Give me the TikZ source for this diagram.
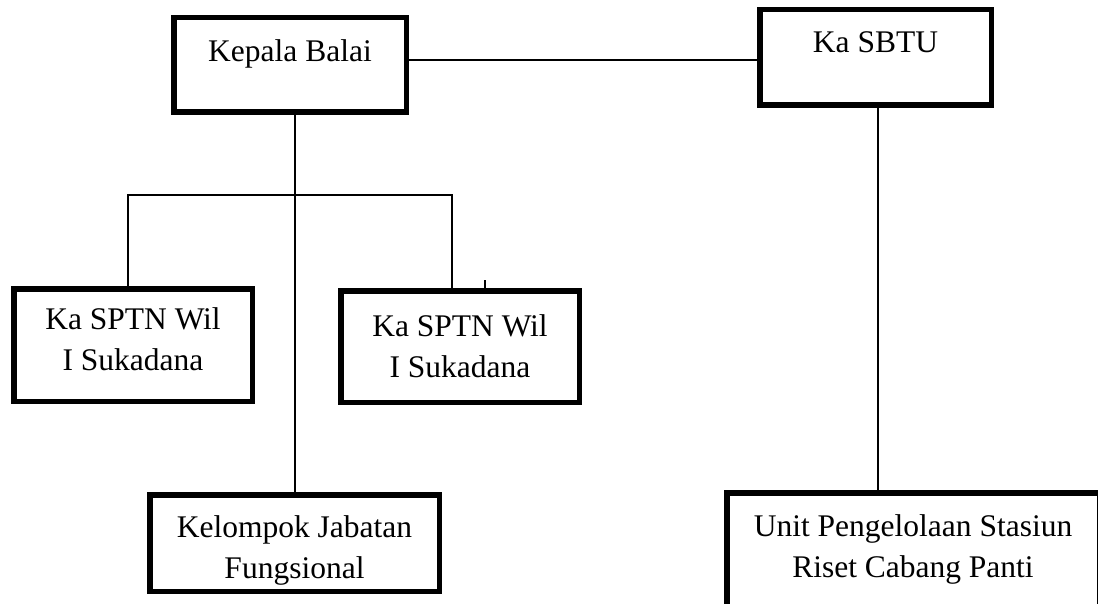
\documentclass[tikz,border=0pt]{standalone}
\usepackage{fontspec}
\setmainfont{Liberation Serif}
\usetikzlibrary{positioning}
\tikzstyle{post}=[draw,rectangle,line width=5.5pt,inner sep=0pt,align=center]
\tikzstyle{every node}=[font=\fontsize{31.5}{41}\selectfont]

\begin{document}
\begin{tikzpicture}[x=1pt,y=-1pt,line width=1.6pt]
    \clip (0,0) rectangle (1098,604);
    \node[post, minimum width=232.5pt, minimum height=94.5pt,
      text height=44.25pt, text depth=50.25pt] (kb) at (290,65) {Kepala Balai};
    \node[post, minimum width=231.5pt, minimum height=95.5pt,
      text height=43.25pt, text depth=52.25pt] (sbtu) at (875.5,57.5) {Ka SBTU};
    \node[post, minimum width=238.5pt, text height=81.25pt, text depth=31.25pt]
      (sptnA) at (133,345) {Ka SPTN Wil\\I Sukadana};
    \node[post, minimum width=238.5pt, text height=86.25pt, text depth=25.25pt]
      (sptnB) at (460,346.5) {Ka SPTN Wil\\I Sukadana};
    \node[post, minimum width=289.5pt, text height=83.25pt, text depth=13.25pt]
      (kjf) at (294.5,543) {Kelompok Jabatan\\Fungsional};
    \node[post, minimum width=372.5pt, text height=84.25pt, text depth=63pt]
      (upcs) at (913,566.375) {Unit Pengelolaan Stasiun\\Riset Cabang Panti};
    \coordinate (busL) at (128,195);
    \coordinate (busR) at (452,195);
    \coordinate (tick) at (485,280);
    \draw ([yshift=5pt]kb.east) -- ([yshift=5pt]kb.east -| sbtu.west);
    \draw ([xshift=5pt]kb.south) -- ([xshift=5pt]kb.south |- kjf.north);
    \draw (busL |- sptnA.north) -- (busL) -- (busR) -- (busR |- sptnB.north);
    \draw (tick) -- (tick |- sptnB.north);
    \draw ([xshift=2.5pt]sbtu.south) -- ([xshift=2.5pt]sbtu.south |- upcs.north);
\end{tikzpicture}
\end{document}
